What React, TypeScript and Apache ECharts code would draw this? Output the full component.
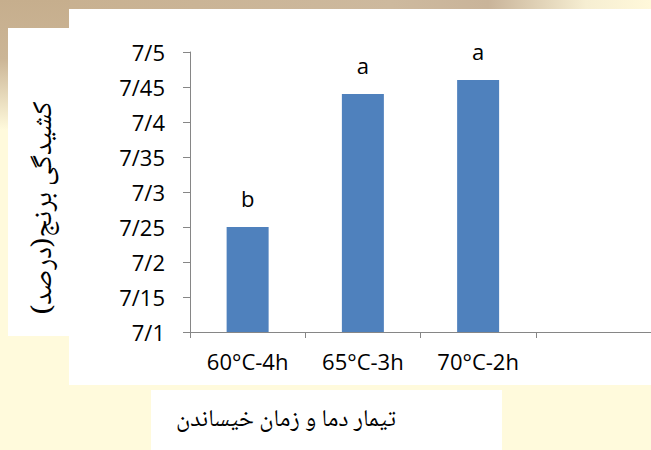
import React, { useEffect, useRef } from "react";
import * as echarts from "echarts";

const categories = ["60°C-4h", "65°C-3h", "70°C-2h", ""];
const values = [7.25, 7.44, 7.46, null];
const letters = ["b", "a", "a", ""];
const yAxisName = "کشیدگی برنج(درصد)";
const xAxisName = "تیمار دما و زمان خیساندن";
const yMin = 7.1;
const yMax = 7.5;
const yStep = 0.05;

const tickFont = "'Open Sans', Lato, sans-serif";
const persianFont = "'Noto Naskh Arabic', 'Noto Sans Arabic', 'Times New Roman', 'DejaVu Sans', serif";

export default function App() {
  const ref = useRef<HTMLDivElement>(null);
  useEffect(() => {
    if (!ref.current) return;
    const chart = echarts.init(ref.current, null, { renderer: "svg" });
    const cream = "#FFFADC";
    chart.setOption({
      animation: false,
      backgroundColor: cream,
      graphic: [
        {
          type: "rect",
          z: -10,
          shape: { x: 0, y: 0, width: 651, height: 12 },
          style: {
            fill: new echarts.graphic.LinearGradient(0, 0, 1, 0, [
              { offset: 0, color: "#C7AF8E" },
              { offset: 0.6, color: "#CDB99E" },
              { offset: 0.75, color: "#C9B49A" },
              { offset: 0.9, color: "#F6EED2" },
              { offset: 1, color: "#FFF8DA" },
            ]),
          },
        },
        {
          type: "rect",
          z: -9,
          shape: { x: 0, y: 0, width: 70, height: 130 },
          style: {
            fill: new echarts.graphic.LinearGradient(0, 0, 0, 1, [
              { offset: 0, color: "#C6AE8D" },
              { offset: 0.45, color: "#CBB596" },
              { offset: 1, color: cream },
            ]),
          },
        },
        {
          type: "rect",
          z: -8,
          shape: { x: 8, y: 28, width: 70, height: 308 },
          style: { fill: "#FFFFFF" },
        },
        {
          type: "rect",
          z: -7,
          shape: { x: 69, y: 9, width: 582, height: 376 },
          style: { fill: "#FFFFFF" },
        },
        {
          type: "rect",
          z: -7,
          shape: { x: 151, y: 390, width: 351, height: 60 },
          style: { fill: "#FFFFFF" },
        },
        {
          type: "text",
          x: 45,
          y: 208,
          rotation: Math.PI / 2,
          style: {
            text: yAxisName,
            font: `28px ${persianFont}`,
            fill: "#000",
            align: "center",
            verticalAlign: "middle",
          },
        },
        {
          type: "text",
          x: 286,
          y: 420,
          style: {
            text: xAxisName,
            font: `24px ${persianFont}`,
            fill: "#000",
            align: "center",
            verticalAlign: "middle",
          },
        },
      ],
      grid: { left: 190, right: -8, top: 52, bottom: 118, containLabel: false },
      xAxis: {
        type: "category",
        data: categories,
        boundaryGap: true,
        axisLine: { lineStyle: { color: "#868686", width: 1 } },
        axisTick: { show: true, length: 6, lineStyle: { color: "#868686" } },
        axisLabel: { fontFamily: tickFont, fontSize: 22, color: "#000", margin: 18 },
      },
      yAxis: {
        type: "value",
        min: yMin,
        max: yMax,
        interval: yStep,
        axisLine: { show: true, lineStyle: { color: "#868686", width: 1 } },
        axisTick: { show: true, length: 7, lineStyle: { color: "#868686" } },
        splitLine: { show: false },
        axisLabel: {
          fontFamily: tickFont,
          fontSize: 22,
          color: "#000",
          margin: 25,
          formatter: (v: number) => {
            let s = v.toFixed(2);
            if (s.endsWith("0")) s = s.slice(0, -1);
            return s.replace(".", "/");
          },
        },
      },
      series: [
        {
          type: "bar",
          data: values,
          barWidth: 42,
          itemStyle: { color: "#4F81BD" },
          label: {
            show: true,
            position: "top",
            distance: 18,
            fontFamily: tickFont,
            fontSize: 22,
            color: "#000",
            formatter: (p: any) => letters[p.dataIndex] ?? "",
          },
        },
      ],
    });
    return () => chart.dispose();
  }, []);
  return <div ref={ref} style={{ width: 651, height: 450, position: "absolute", left: 0, top: 0 }} />;
}
